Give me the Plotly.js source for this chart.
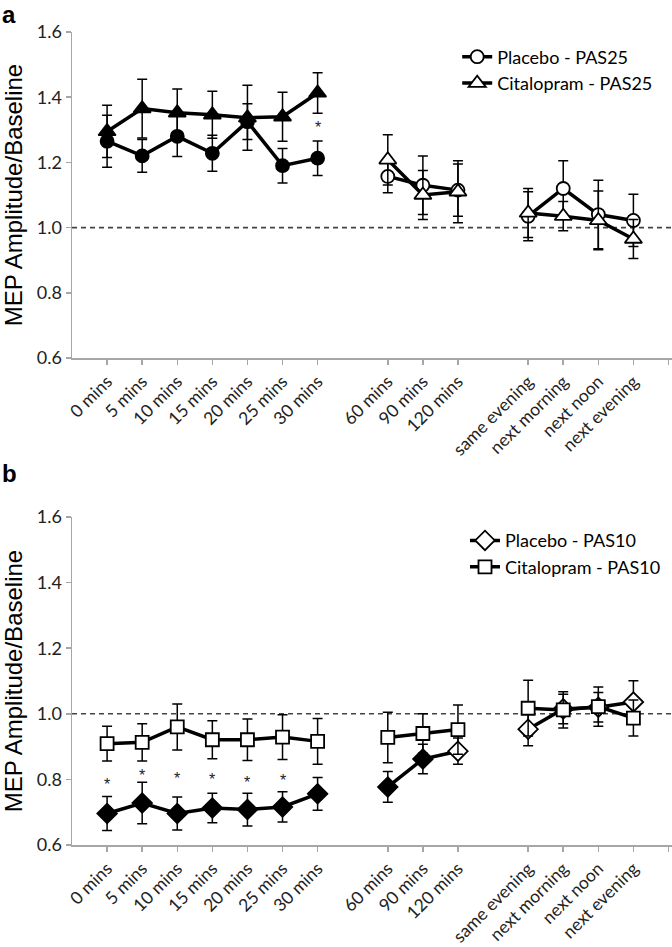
<!DOCTYPE html>
<html>
<head>
<meta charset="utf-8">
<script src="https://cdn.plot.ly/plotly-3.0.1.min.js"></script>
<style>html,body{margin:0;padding:0;background:#fff;}#chart{width:672px;height:947px;}</style>
</head>
<body>
<div id="chart"></div>
<script>
// Category positions (blank slots break the lines)
const categories = ['0 mins','5 mins','10 mins','15 mins','20 mins','25 mins','30 mins','','60 mins','90 mins','120 mins','','same evening','next morning','next noon','next evening'];
const xIndex = categories.map((c, i) => i);

// Panel a
const placeboPAS25 = [1.265, 1.22, 1.28, 1.228, 1.325, 1.19, 1.213, null, 1.157, 1.13, 1.115, null, 1.035, 1.12, 1.04, 1.022];
const placeboPAS25Err = [0.08, 0.05, 0.062, 0.055, 0.055, 0.053, 0.053, null, 0.05, 0.09, 0.08, null, 0.075, 0.085, 0.105, 0.08];
const citalopramPAS25 = [1.295, 1.365, 1.352, 1.346, 1.337, 1.34, 1.413, null, 1.208, 1.10, 1.11, null, 1.045, 1.035, 1.022, 0.965];
const citalopramPAS25Err = [0.08, 0.09, 0.073, 0.072, 0.1, 0.075, 0.062, null, 0.077, 0.075, 0.095, null, 0.075, 0.045, 0.09, 0.06];
const filledA = [1,1,1,1,1,1,1,0,0,0,0,0,0,0,0,0];
const starsA = [null, null, null, null, null, null, 1.318, null, null, null, null, null, null, null, null, null];

// Panel b
const placeboPAS10 = [0.696, 0.728, 0.696, 0.713, 0.708, 0.716, 0.756, null, 0.777, 0.862, 0.886, null, 0.953, 1.015, 1.02, 1.036];
const placeboPAS10Err = [0.052, 0.063, 0.05, 0.045, 0.05, 0.046, 0.05, null, 0.047, 0.045, 0.04, null, 0.05, 0.045, 0.045, 0.065];
const citalopramPAS10 = [0.909, 0.913, 0.96, 0.921, 0.921, 0.929, 0.916, null, 0.928, 0.94, 0.952, null, 1.017, 1.012, 1.022, 0.987];
const citalopramPAS10Err = [0.053, 0.057, 0.07, 0.058, 0.063, 0.068, 0.07, null, 0.077, 0.06, 0.075, null, 0.085, 0.055, 0.06, 0.055];
const filledPlaceboB = [1,1,1,1,1,1,1,0,1,1,0,0,0,0,0,0];
const filledCitalopramB = [0,0,0,0,0,0,0,0,0,0,0,0,0,0,0,0];
const starsB = [0.797, 0.824, 0.814, 0.811, 0.804, 0.81, null, null, null, null, null, null, null, null, null, null];

const yTicks = [0.6, 0.8, 1.0, 1.2, 1.4, 1.6];
const yTitle = 'MEP Amplitude/Baseline';

const fillColors = f => f.map(v => v ? '#000' : '#fff');
const tickVals = xIndex.filter(i => categories[i] !== '').concat([16]);
const tickText = tickVals.map(i => i < categories.length ? categories[i] : '');

function series(y, err, fill, symbol, size, xa, ya) {
  return {
    x: xIndex, y: y, xaxis: xa, yaxis: ya, type: 'scatter', mode: 'lines+markers',
    connectgaps: false, showlegend: false, hoverinfo: 'skip',
    line: {color: '#000', width: 3.5},
    marker: {symbol: symbol, size: size, color: fillColors(fill), line: {color: '#000', width: 1.8}},
    error_y: {type: 'data', array: err, visible: true, color: '#000', thickness: 1.5, width: 5}
  };
}
function legendItem(name, symbol, size, legend) {
  return {
    x: [null], y: [null], type: 'scatter', mode: 'lines+markers', name: name, legend: legend,
    line: {color: '#000', width: 3.5},
    marker: {symbol: symbol, size: size, color: '#fff', line: {color: '#000', width: 1.8}}
  };
}

const data = [
  series(placeboPAS25, placeboPAS25Err, filledA, 'circle', 13, 'x', 'y'),
  series(citalopramPAS25, citalopramPAS25Err, filledA, 'triangle-up', 15, 'x', 'y'),
  series(placeboPAS10, placeboPAS10Err, filledPlaceboB, 'diamond', 15, 'x2', 'y2'),
  series(citalopramPAS10, citalopramPAS10Err, filledCitalopramB, 'square', 13, 'x2', 'y2'),
  legendItem('Placebo - PAS25', 'circle', 13, 'legend'),
  legendItem('Citalopram - PAS25', 'triangle-up', 15, 'legend'),
  legendItem('Placebo - PAS10', 'diamond', 15, 'legend2'),
  legendItem('Citalopram - PAS10', 'square', 13, 'legend2')
];

const annotations = [];
const starFont = {family: 'Liberation Sans, Arial', size: 16, color: '#222'};
starsA.forEach((v, i) => { if (v !== null) annotations.push({x: i, y: v, xref: 'x', yref: 'y', text: '*', showarrow: false, font: starFont, yshift: -4}); });
starsB.forEach((v, i) => { if (v !== null) annotations.push({x: i, y: v, xref: 'x2', yref: 'y2', text: '*', showarrow: false, font: starFont, yshift: -4}); });
annotations.push({x: 0, y: 1, xref: 'paper', yref: 'paper', xanchor: 'left', yanchor: 'top', text: '<b>a</b>', showarrow: false, font: {family: 'Liberation Sans, Arial', size: 24, color: '#000'}, xshift: -72, yshift: 33});
annotations.push({x: 0, y: 0.4034, xref: 'paper', yref: 'paper', xanchor: 'left', yanchor: 'top', text: '<b>b</b>', showarrow: false, font: {family: 'Liberation Sans, Arial', size: 24, color: '#000'}, xshift: -72, yshift: 59});

const xAxisBase = {
  range: [-1, 16.1], tickmode: 'array', tickvals: tickVals, ticktext: tickText, tickangle: -45,
  showgrid: false, zeroline: false, showline: true, linecolor: '#a6a6a6', linewidth: 1.5,
  ticks: 'outside', ticklen: 5, tickcolor: '#a6a6a6', tickwidth: 1.5,
  tickfont: {family: 'Lato, Carlito, sans-serif', size: 17.5, color: '#222'}, fixedrange: true
};
const yAxisBase = {
  range: [0.6, 1.6], tickmode: 'array', tickvals: yTicks, tickformat: '.1f',
  showgrid: false, zeroline: false, showline: true, linecolor: '#a6a6a6', linewidth: 1.5,
  ticks: 'outside', ticklen: 5, tickcolor: '#a6a6a6', tickwidth: 1.5,
  tickfont: {family: 'Lato, Carlito, sans-serif', size: 18, color: '#222'},
  title: {text: yTitle, font: {family: 'Liberation Sans, Arial', size: 24, color: '#000'}, standoff: 12}, fixedrange: true
};

const dashLine = (xa, ya) => ({type: 'line', xref: xa, yref: ya, x0: -1, x1: 16.1, y0: 1, y1: 1, line: {color: '#444', width: 1.6, dash: '5px,4px'}, layer: 'below'});

const layout = {
  width: 672, height: 947,
  margin: {l: 72, r: 0, t: 32, b: 102},
  paper_bgcolor: '#fff', plot_bgcolor: '#fff',
  showlegend: true,
  xaxis: Object.assign({}, xAxisBase, {anchor: 'y', domain: [0, 1]}),
  yaxis: Object.assign({}, yAxisBase, {anchor: 'x', domain: [0.599, 1]}),
  xaxis2: Object.assign({}, xAxisBase, {anchor: 'y2', domain: [0, 1]}),
  yaxis2: Object.assign({}, yAxisBase, {anchor: 'x2', domain: [0, 0.4034]}),
  legend: {x: 0.642, y: 0.992, xanchor: 'left', yanchor: 'top', bgcolor: 'rgba(0,0,0,0)', font: {family: 'Lato, Carlito, sans-serif', size: 18, color: '#000'}},
  legend2: {x: 0.655, y: 0.397, xanchor: 'left', yanchor: 'top', bgcolor: 'rgba(0,0,0,0)', font: {family: 'Lato, Carlito, sans-serif', size: 18, color: '#000'}},
  shapes: [dashLine('x', 'y'), dashLine('x2', 'y2')],
  annotations: annotations
};

Plotly.newPlot('chart', data, layout, {displayModeBar: false, staticPlot: true});
</script>
</body>
</html>
